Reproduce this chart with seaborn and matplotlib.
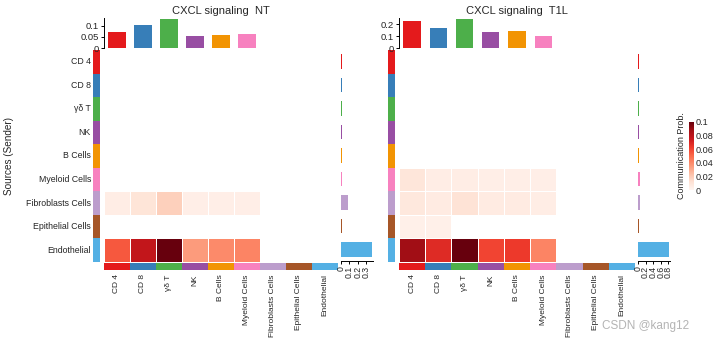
import numpy as np
import pandas as pd
import matplotlib
matplotlib.use("Agg")
import matplotlib.pyplot as plt
import seaborn as sns
from matplotlib.colors import ListedColormap

sns.set_theme(style="white")
plt.rcParams['font.family'] = ['Liberation Sans', 'DejaVu Sans']

cells = ["CD 4", "CD 8", "γδ T", "NK", "B Cells", "Myeloid Cells",
         "Fibroblasts Cells", "Epithelial Cells", "Endothelial"]
cell_colors = ['#E41A1C', '#377EB8', '#4DAF4A', '#984EA3', '#F29403',
               '#F781BF', '#BC9DCC', '#A65628', '#54B0E4']

# heatmap values (rows = senders, cols = receivers)
nt_matrix = [
    [0, 0, 0, 0, 0, 0, 0, 0, 0],
    [0, 0, 0, 0, 0, 0, 0, 0, 0],
    [0, 0, 0, 0, 0, 0, 0, 0, 0],
    [0, 0, 0, 0, 0, 0, 0, 0, 0],
    [0, 0, 0, 0, 0, 0, 0, 0, 0],
    [0, 0, 0, 0, 0, 0, 0, 0, 0],
    [0.005, 0.010, 0.018, 0.004, 0.004, 0.004, 0, 0, 0],
    [0, 0, 0, 0, 0, 0, 0, 0, 0],
    [0.055, 0.078, 0.100, 0.035, 0.040, 0.042, 0, 0, 0],
]
t1l_matrix = [
    [0, 0, 0, 0, 0, 0, 0, 0, 0],
    [0, 0, 0, 0, 0, 0, 0, 0, 0],
    [0, 0, 0, 0, 0, 0, 0, 0, 0],
    [0, 0, 0, 0, 0, 0, 0, 0, 0],
    [0, 0, 0, 0, 0, 0, 0, 0, 0],
    [0.009, 0.005, 0.005, 0.004, 0.004, 0.004, 0, 0, 0],
    [0.008, 0.006, 0.011, 0.006, 0.006, 0.005, 0, 0, 0],
    [0.003, 0.003, 0, 0, 0, 0, 0, 0, 0],
    [0.088, 0.068, 0.100, 0.060, 0.063, 0.042, 0, 0, 0],
]
# top bars: incoming (column sums); right bars: outgoing (row sums)
nt_incoming = [0.073, 0.102, 0.130, 0.056, 0.059, 0.062, 0.001, 0.001, 0.001]
nt_outgoing = [0.006, 0.006, 0.006, 0.006, 0.006, 0.006, 0.087, 0.006, 0.37]
t1l_incoming = [0.223, 0.164, 0.242, 0.135, 0.143, 0.099, 0.002, 0.002, 0.002]
t1l_outgoing = [0.02, 0.02, 0.02, 0.02, 0.02, 0.05, 0.045, 0.015, 0.82]

nt_top_ticks = [0, 0.05, 0.1]
nt_right_ticks = [0, 0.1, 0.2, 0.3]
t1l_top_ticks = [0, 0.1, 0.2]
t1l_right_ticks = [0, 0.2, 0.4, 0.6, 0.8]
legend_ticks = [0, 0.02, 0.04, 0.06, 0.08, 0.1]

W, H = 720, 338
fig = plt.figure(figsize=(W / 100, H / 100), dpi=100)


def px_axes(x, y, w, h):
    return fig.add_axes([x / W, 1 - (y + h) / H, w / W, h / H])


FS = 6.3
n = len(cells)


def panel(x0, x1, title, matrix, incoming, outgoing, top_ticks, right_ticks,
          top_max, right_max, show_rows):
    y0, y1 = 50, 262
    hw = x1 - x0
    # heatmap
    ax = px_axes(x0, y0, hw, y1 - y0)
    df = pd.DataFrame(matrix, index=cells, columns=cells)
    sns.heatmap(df, ax=ax, mask=(df == 0), cmap="Reds", vmin=0, vmax=0.1,
                cbar=False, linewidths=0.5, linecolor="white",
                xticklabels=False, yticklabels=False)
    ax.set_xlabel("")
    ax.set_ylabel("")
    # left colour strip
    axl = px_axes(x0 - 11, y0, 7, y1 - y0)
    strip = pd.DataFrame(np.arange(n).reshape(-1, 1), index=cells)
    sns.heatmap(strip, ax=axl, cmap=ListedColormap(cell_colors), cbar=False,
                xticklabels=False, yticklabels=cells if show_rows else False)
    axl.tick_params(axis="y", length=0, pad=1.5, labelsize=FS)
    for lab in axl.get_yticklabels():
        lab.set_rotation(0)
    axl.set_ylabel("")
    # bottom colour strip
    axb = px_axes(x0, 263, hw, 7)
    stripb = pd.DataFrame(np.arange(n).reshape(1, -1), columns=cells)
    sns.heatmap(stripb, ax=axb, cmap=ListedColormap(cell_colors), cbar=False,
                yticklabels=False, xticklabels=cells)
    axb.tick_params(axis="x", length=0, pad=3, labelsize=6.0, labelrotation=90)
    axb.set_xlabel("")
    # top bars
    axt = px_axes(x0, 18, hw, 30)
    sns.barplot(x=cells, y=incoming, hue=cells, palette=cell_colors,
                legend=False, ax=axt, width=0.66, linewidth=0, saturation=1)
    axt.set_xlim(-0.5, n - 0.5)
    axt.set_ylim(0, top_max)
    axt.set_yticks(top_ticks)
    axt.set_yticklabels([f"{t:g}" for t in top_ticks])
    axt.set_xticks([])
    for s in ["top", "right", "bottom"]:
        axt.spines[s].set_visible(False)
    axt.spines["left"].set_color("black")
    axt.spines["left"].set_linewidth(0.7)
    axt.tick_params(axis="y", length=2.5, width=0.7, pad=1, labelsize=FS + 0.5,
                    left=True, color="black")
    axt.set_title(title, fontsize=8, pad=3)
    # right bars
    axr = px_axes(x1 + 3, y0, 32, y1 - y0 - 1)
    sns.barplot(y=cells, x=outgoing, hue=cells, palette=cell_colors,
                legend=False, ax=axr, width=0.62, orient="h", linewidth=0,
                saturation=1)
    axr.set_ylim(n - 0.5, -0.5)
    axr.set_xlim(0, right_max)
    axr.set_xticks(right_ticks)
    axr.set_xticklabels([f"{t:g}" for t in right_ticks])
    axr.set_yticks([])
    for s in ["top", "right", "left"]:
        axr.spines[s].set_visible(False)
    axr.spines["bottom"].set_color("black")
    axr.spines["bottom"].set_linewidth(0.7)
    axr.tick_params(axis="x", length=2.5, width=0.7, pad=1, labelsize=FS,
                    labelrotation=90, bottom=True, color="black")
    axr.set_xlabel("")
    axr.set_ylabel("")
    return axl


panel(104, 338, "CXCL signaling  NT", nt_matrix, nt_incoming, nt_outgoing,
      nt_top_ticks, nt_right_ticks, 0.135, 0.38, True)
panel(399, 635, "CXCL signaling  T1L", t1l_matrix, t1l_incoming, t1l_outgoing,
      t1l_top_ticks, t1l_right_ticks, 0.25, 0.84, False)

fig.text(9 / W, 1 - 156 / H, "Sources (Sender)", rotation=90, fontsize=7.2,
         ha="center", va="center")

# colour legend
cax = px_axes(689, 122, 5, 68)
sm = plt.cm.ScalarMappable(cmap="Reds", norm=plt.Normalize(0, 0.1))
cb = fig.colorbar(sm, cax=cax, ticks=legend_ticks)
cb.outline.set_visible(False)
cb.ax.set_yticklabels([f"{t:g}" for t in legend_ticks])
cb.ax.tick_params(length=0, pad=1.5, labelsize=FS + 0.3)
cb.ax.yaxis.set_label_position("left")
cb.set_label("Communication Prob.", fontsize=6.5, labelpad=2)

fig.text(646 / W, 1 - 326 / H, "CSDN @kang12", fontsize=8.5, color="#b4b4b4",
         ha="center", va="center")

fig.savefig("out.png", dpi=100, facecolor="white")
